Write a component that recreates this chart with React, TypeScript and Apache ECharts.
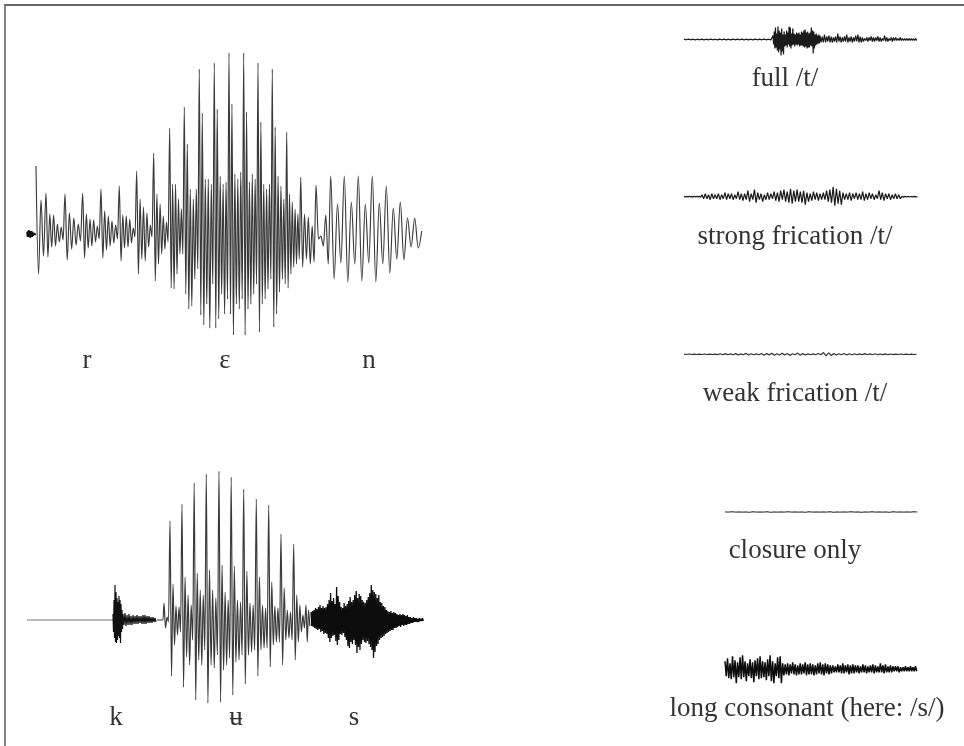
import React, { useEffect, useRef } from "react";
import * as echarts from "echarts";

// ---- labels ----
const phonemesTop = ["r", "ɛ", "n"];
const phonemesBottom = ["k", "ʉ", "s"];
const variantLabels = ["full /t/", "strong frication /t/", "weak frication /t/", "closure only", "long consonant (here: /s/)"];

// ---- "ren" waveform: pulse onset times and alternating extrema inside each pulse ----
const renLead = [2, -3, 3, -3, 4, -3, 3, -4, 3, -3, 3, -3, 2, -2, 1, -1, 1, -1, 0];
const renOnsets = [36, 46, 65, 82.7, 101, 119.3, 136.7, 153.7, 169.7, 184.3, 199.3, 214.3, 229, 243.7, 258, 272.3, 286.7, 300.7, 316, 330.7, 344.3, 358.3, 372.3, 386.3, 400.3, 414.7, 421.7, 424];
const renPulses = [
  [68, -40, 34, -22],
  [41, -23, 20, -13, 19, -12, 10, -8, 7, -6],
  [40, -26, 21, -15, 16, -11, 10, -7],
  [41, -24, 20, -14, 15, -12, 14, -8, 8, -5],
  [45, -24, 23, -16, 18, -12, 13, -9, 9, -5],
  [48, -27, 19, -14, 18, -13, 15, -9, 6, -3],
  [63, -40, 35, -25, 27, -27, 21, -13, 9, -3],
  [81, -47, 40, -30, 30, -20, 18, -15, 12, -8],
  [106, -54, 50, -55, 50, -40, 35, -20, 25, -20],
  [127, -60, 90, -75, 45, -72, 35, -45, 45, -35],
  [165, -81, 121, -91, 55, -70, 55, -94, 50, -50],
  [171, -94, 125, -85, 58, -60, 50, -80, 52, -65],
  [181, -80, 130, -101, 60, -70, 55, -75, 62, -65],
  [181, -101, 122, -75, 52, -70, 60, -60, 55, -50],
  [171, -98, 112, -70, 50, -65, 45, -55, 50, -45],
  [165, -93, 107, -80, 58, -58, 48, -45, 35, -50],
  [102, -54, 40, -40, 32, -33, 25, -30, 20, -25],
  [57, -33, 20, -25, 17, -30, 8, -28],
  [49, -5, -2, -12, 19, -30],
  [58, -45, 30, -29],
  [58, -48, 32, -30],
  [58, -47, 30, -29],
  [58, -48, 31, -30],
  [48, -39, 26, -25],
  [32, -26, 16, -13],
  [16, -14],
  [3],
];

// ---- "kʉs" waveform ----
const kusBurst = [6, -12, 20, -18, 35, -22, 28, -23, 22, -20, 18, -16, 24, -18, 20, -23, 16, -12, 10, -9];
const kusBurstTail = [6, -5, 7, -6, 5, -5, 6, -5, 4, -5, 5, -4, 4, -4, 5, -4, 4, -3, 4, -4, 5, -4, 5, -4, 4, -3, 4, -3, 3, -3, 3, -2, 2, -2];
const kusOnsets = [164, 170, 182, 194.2, 206.3, 219, 231.2, 243.7, 256.3, 268.7, 281, 293.7, 306, 311];
const kusPulses = [
  [17, -8, 3, -2],
  [99, -56, 36, -25, 14, -15, 13, -12],
  [116, -67, 43, -37, 25, -45, 15, -20],
  [137, -80, 47, -40, 30, -45, 25, -30],
  [146, -83, 50, -45, 30, -48, 22, -35],
  [149, -82, 55, -50, 28, -45, 20, -38],
  [143, -75, 54, -42, 20, -40, 18, -35],
  [131, -64, 49, -35, 17, -32, 15, -30],
  [121, -56, 43, -30, 15, -28, 12, -28],
  [115, -47, 38, -25, 14, -22, 12, -22],
  [86, -45, 32, -20, 10, -18, 8, -20],
  [76, -40, 25, -22, 15, -12, 5, -8],
  [15, -22, 10, -6],
];
const kusFrication = [
  8, -6, 9, -7, 10, -8, 12, -9, 11, -10, 13, -9, 15, -12, 12, -11, 14, -14, 12, -13,
  13, -14, 16, -18, 20, -22, 27, -18, 19, -16, 22, -15, 16, -21, 33, -25, 24, -20, 18, -14,
  13, -15, 12, -13, 17, -17, 14, -20, 16, -26, 19, -28, 23, -22, 18, -24, 20, -20, 25, -25,
  29, -33, 22, -27, 26, -30, 24, -24, 20, -20, 18, -22, 17, -23, 20, -21, 23, -24, 27, -27,
  35, -30, 30, -38, 28, -32, 26, -26, 22, -24, 25, -20, 18, -18, 17, -17, 14, -16, 13, -14,
  10, -13, 9, -12, 8, -11, 9, -10, 7, -10, 8, -8, 7, -8, 6, -7, 5, -6, 6, -7,
  5, -5, 6, -6, 5, -5, 4, -5, 5, -4, 3, -4, 3, -3, 2, -3, 3, -2, 2, -2,
  2, -2, 1, -2, 2, -1, 1, -1, 2, -1,
];

// ---- right-hand samples ----
const fullLead = [
  0.3, -0.3, 0.4, -0.3, 0.3, -0.4, 0.3, -0.3, 0.4, -0.4, 0.3, -0.3, 0.4, -0.3, 0.3, -0.4, 0.4, -0.3, 0.3, -0.3,
  0.3, -0.4, 0.4, -0.3, 0.3, -0.3, 0.4, -0.4, 0.3, -0.3, 0.3, -0.4, 0.4, -0.3, 0.3, -0.3, 0.4, -0.3, 0.3, -0.4,
];
const fullBurst = [
  4, -5, 8, -9, 12, -8, 6, -11, 13, -13, 9, -10, 7, -16, 11, -12, 5, -15, 8, -7,
  5, -6, 9, -8, 7, -5, 13, -7, 12, -9, 6, -6, 11, -5, 6, -7, 5, -5, 7, -6,
  6, -5, 7, -7, 5, -6, 8, -6, 7, -7, 9, -8, 10, -7, 7, -9, 8, -8, 6, -8,
  7, -6, 12, -7, 9, -14, 8, -9, 5, -6, 6, -5, 4, -4, 5, -4,
];
const fullTail = [
  4, -3, 3, -3, 5, -3, 3, -2, 4, -3, 3, -3, 2, -2, 3, -3, 6, -2, 3, -3, 2, -2, 3, -2, 5, -3, 2, -2, 3, -3,
  2, -2, 4, -2, 5, -3, 3, -3, 2, -2, 1, -1, 2, -2, 2, -1, 3, -2, 2, -2, 2, -1, 3, -2, 2, -2, 1, -1, 4, -2,
  2, -2, 1, -1, 2, -2, 2, -1, 2, -1, 1, -1, 2, -1, 1, -1, 1, -1, 1, -1, 1, -1, 1, -1, 1, -1, 1, -1,
];
const strongLead = [0.3, -0.3, 0.3, -0.3, 0.4, -0.3, 0.3, -0.4, 0.4, -0.4, 0.5, -0.4, 0.5, -0.5];
const strongBody = [
  2, -2, 3, -2, 2, -3, 3, -2, 2, -2, 3, -3, 2, -2, 4, -3, 3, -2, 3, -3, 2, -2, 5, -3, 3, -4, 3, -3,
  6, -5, 3, -3, 7, -6, 4, -3, 3, -5, 2, -3, 4, -3, 3, -2, 5, -4, 4, -5, 6, -3, 7, -5, 5, -6, 8, -7, 6, -5,
  7, -5, 5, -6, 6, -8, 4, -5, 3, -4, 5, -3, 4, -4, 3, -3, 4, -3, 6, -5, 7, -6, 10, -9, 8, -7, 6, -8,
  4, -3, 3, -3, 4, -4, 3, -2, 4, -3, 3, -3, 5, -4, 3, -3, 4, -2, 3, -3, 2, -2, 6, -3, 4, -4, 3, -2, 3, -3, 2, -2, 3, -2, 2, -2,
];
const strongTail = [0.4, -0.4, 0.3, -0.3, 0.3, -0.3, 0.2, -0.2, 0.3, -0.2, 0];
const weakValues = [
  0.2, -0.2, 0.3, -0.2, 0.2, -0.2, 0.2, -0.2, 0.3, -0.2, 0.2, -0.2, 0.2, -0.3, 0.5, -0.5, 0.7, -0.5, 0.4, -0.4,
  0.7, -0.7, 0.4, -0.4, 0.9, -0.7, 0.5, -0.5, 0.4, -0.4, 0.8, -0.9, 0.7, -0.6, 1.1, -0.9, 0.5, -0.7, 1, -0.8,
  0.8, -1.1, 0.5, -0.4, 1.2, -0.9, 0.7, -0.7, 0.4, -0.4, 0.4, -0.5, 0.8, -0.5, 1.8, -1.6, 1.4, -1.2, 0.8, -0.7,
  0.5, -0.4, 0.8, -0.7, 0.5, -0.4, 0.5, -0.5, 0.4, -0.5, 0.7, -0.5, 0.4, -0.4, 0.5, -0.4, 0.3, -0.3, 0.4, -0.4,
  0.3, -0.3, 0.2, -0.2, 0.3, -0.2, 0.2, -0.2, 0.2, -0.2, 0,
];
const closureValues = [
  0.2, -0.2, 0.3, -0.2, 0.2, -0.2, 0.2, -0.3, 0.3, -0.2, 0.2, -0.2, 0.3, -0.3, 0.2, -0.2, 0.2, -0.2, 0.3, -0.2,
  0.2, -0.2, 0.2, -0.3, 0.3, -0.2, 0.2, -0.2, 0.2, -0.2, 0.3, -0.3, 0.2, -0.2, 0.2, -0.2, 0.3, -0.2, 0.2, -0.3,
  0.2, -0.2, 0.3, -0.2, 0.2, -0.2, 0.2, -0.3, 0.3, -0.2, 0.2, -0.2, 0.2, -0.2, 0.3, 0,
];
const longValues = [
  8, -7, 11, -9, 6, -10, 13, -8, 9, -14, 7, -8, 12, -10, 14, -8, 8, -12, 6, -7,
  10, -9, 7, -13, 9, -7, 11, -10, 13, -9, 8, -8, 7, -11, 10, -7, 14, -12, 8, -14, 6, -7, 12, -9, 13, -14, 6, -6,
  5, -5, 6, -6, 5, -4, 7, -5, 5, -6, 4, -5, 6, -5, 5, -4, 7, -6, 5, -5, 6, -5, 5, -6, 4, -5, 6, -4, 7, -5, 5, -6, 6, -4, 5, -5, 4, -4,
  4, -3, 3, -3, 5, -3, 4, -4, 6, -4, 4, -3, 5, -5, 4, -4, 5, -4, 4, -3, 4, -4, 3, -3, 5, -3, 4, -4, 3, -3, 4, -3,
  5, -4, 4, -3, 3, -3, 6, -3, 4, -4, 5, -3, 3, -3, 4, -3, 3, -2, 3, -2, 3, -3, 2, -2, 2, -2, 3, -2, 2, -2, 3, -2, 2, -2, 3, -2,
];

type Pt = [number, number];

function spread(x0: number, x1: number, values: number[]): Pt[] {
  const step = (x1 - x0) / values.length;
  return values.map((v, i) => [x0 + i * step, v] as Pt);
}

function pulses(onsets: number[], extrema: number[][]): Pt[] {
  const out: Pt[] = [];
  extrema.forEach((vals, i) => out.push(...spread(onsets[i], onsets[i + 1], vals)));
  return out;
}

const renLeadWave: Pt[] = spread(27, 36, renLead);
const renWave: Pt[] = pulses(renOnsets, renPulses);
const kusFlat: Pt[] = [[27, 0], [113, 0]];
const kusBurstWave: Pt[] = [...spread(113, 123, kusBurst), ...spread(123, 157, kusBurstTail)];
const kusVowel: Pt[] = [[157, 0], [163, 0], ...pulses(kusOnsets, kusPulses)];
const kusFric: Pt[] = spread(311, 424, kusFrication);
const fullWave: Pt[] = [...spread(684, 773, fullLead), ...spread(773, 820, fullBurst), ...spread(820, 918, fullTail)];
const strongWave: Pt[] = [...spread(684, 702, strongLead), ...spread(702, 902, strongBody), ...spread(902, 919, strongTail)];
const weakWave: Pt[] = spread(684, 919, weakValues);
const closureWave: Pt[] = spread(725, 921, closureValues);
const longWave: Pt[] = spread(725, 918, longValues);

const L = { x0: 27, x1: 427 };
const panels = [
  { data: renLeadWave, ...L, base: 234, up: 190, down: 110, smooth: 0, width: 1.6, color: "#111" },
  { data: renWave, ...L, base: 234, up: 190, down: 110, smooth: 0.35, width: 1.15, color: "#3a3a3a" },
  { data: kusFlat, ...L, base: 620, up: 155, down: 90, smooth: 0, width: 1.1, color: "#777" },
  { data: kusBurstWave, ...L, base: 620, up: 155, down: 90, smooth: 0, width: 1.2, color: "#111" },
  { data: kusVowel, ...L, base: 620, up: 155, down: 90, smooth: 0.35, width: 1.15, color: "#3a3a3a" },
  { data: kusFric, ...L, base: 620, up: 155, down: 90, smooth: 0, width: 1.3, color: "#0c0c0c" },
  { data: fullWave, x0: 684, x1: 917, base: 39.5, up: 20, down: 20, smooth: 0, width: 1.2, color: "#1a1a1a" },
  { data: strongWave, x0: 684, x1: 917, base: 196.7, up: 20, down: 20, smooth: 0, width: 1.2, color: "#1a1a1a" },
  { data: weakWave, x0: 684, x1: 917, base: 354.3, up: 20, down: 20, smooth: 0, width: 1.2, color: "#333" },
  { data: closureWave, x0: 725, x1: 917, base: 512, up: 20, down: 20, smooth: 0, width: 1.2, color: "#555" },
  { data: longWave, x0: 725, x1: 917, base: 669.3, up: 20, down: 20, smooth: 0, width: 1.5, color: "#0c0c0c" },
];

const FONT = '27px "Liberation Serif"';
const phonemeSpots = [
  { text: phonemesTop[0], x: 87, y: 359 },
  { text: phonemesTop[1], x: 225, y: 359 },
  { text: phonemesTop[2], x: 369, y: 359 },
  { text: phonemesBottom[0], x: 116, y: 716 },
  { text: phonemesBottom[1], x: 236, y: 716 },
  { text: phonemesBottom[2], x: 354, y: 716 },
];
const variantSpots = [
  { x: 785, y: 77 },
  { x: 795, y: 235 },
  { x: 795, y: 392 },
  { x: 795, y: 549 },
  { x: 807, y: 707 },
];

export default function App() {
  const ref = useRef<HTMLDivElement>(null);
  useEffect(() => {
    document.body.style.margin = "0";
    const chart = echarts.init(ref.current!, null, { renderer: "svg" });
    const texts = [
      ...phonemeSpots,
      ...variantSpots.map((s, i) => ({ ...s, text: variantLabels[i] })),
    ].map((t) => ({
      type: "text",
      x: t.x,
      y: t.y,
      silent: true,
      style: { text: t.text, font: FONT, fill: "#333", textAlign: "center", textVerticalAlign: "middle" },
    }));
    chart.setOption({
      animation: false,
      backgroundColor: "#fff",
      grid: panels.map((p) => ({ left: p.x0, width: p.x1 - p.x0, top: p.base - p.up, height: p.up + p.down })),
      xAxis: panels.map((p, i) => ({ type: "value", gridIndex: i, show: false, min: p.x0, max: p.x1 })),
      yAxis: panels.map((p, i) => ({ type: "value", gridIndex: i, show: false, min: -p.down, max: p.up })),
      series: panels.map((p, i) => ({
        type: "line",
        xAxisIndex: i,
        yAxisIndex: i,
        data: p.data,
        showSymbol: false,
        symbol: "none",
        smooth: p.smooth,
        smoothMonotone: p.smooth ? "x" : undefined,
        clip: false,
        silent: true,
        lineStyle: { color: p.color, width: p.width },
      })),
      graphic: [
        { type: "line", silent: true, shape: { x1: 4, y1: 5, x2: 964, y2: 5 }, style: { stroke: "#333", lineWidth: 1.4 } },
        { type: "line", silent: true, shape: { x1: 5, y1: 5, x2: 5, y2: 746 }, style: { stroke: "#777", lineWidth: 1.8 } },
        ...texts,
      ],
    });
    return () => chart.dispose();
  }, []);
  return <div ref={ref} style={{ width: 964, height: 746, filter: "blur(0.35px)" }} />;
}
